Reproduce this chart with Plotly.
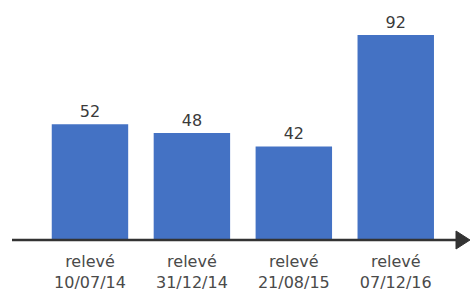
import plotly.graph_objects as go

categories = ["relevé<br>10/07/14", "relevé<br>31/12/14", "relevé<br>21/08/15", "relevé<br>07/12/16"]
values = [52, 48, 42, 92]

FONT = "DejaVu Sans, Liberation Sans, Arial"

fig = go.Figure()
fig.add_trace(go.Bar(
    x=categories, y=values,
    marker=dict(color="#4472C4", line=dict(width=0)),
    text=[str(v) for v in values], textposition="outside",
    textfont=dict(size=16, color="#3a3a3a", family=FONT),
    cliponaxis=False,
))

fig.update_layout(
    width=474, height=291,
    margin=dict(l=12, r=12, t=15, b=51, autoexpand=False),
    paper_bgcolor="white", plot_bgcolor="white",
    bargap=0.25,
    showlegend=False,
    font=dict(family=FONT, color="#404040"),
    xaxis=dict(
        type="category", range=[-0.765, 3.65], automargin=False,
        showgrid=False, zeroline=False, showline=False,
        ticks="", tickfont=dict(size=16, color="#4a4a4a", family=FONT),
        ticklabelstandoff=10,
    ),
    yaxis=dict(range=[0, 101], visible=False, automargin=False),
    shapes=[
        dict(type="line", xref="paper", yref="paper", x0=0, x1=0.99, y0=0, y1=0,
             line=dict(color="#333333", width=2.5)),
        dict(type="path", xref="paper", yref="paper",
             path="M 0.9867,0.04 L 1.0178,0 L 0.9867,-0.04 Z",
             fillcolor="#333333", line=dict(color="#333333", width=1)),
    ],
)

fig.write_html("out.html", config={"displayModeBar": False},
               post_script="document.body.style.margin='0';document.body.style.overflow='hidden';")
